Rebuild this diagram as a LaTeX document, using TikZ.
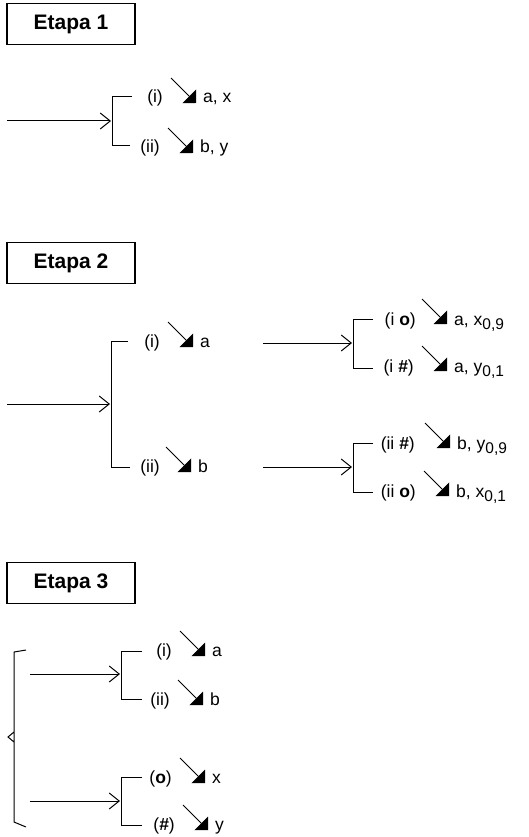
\documentclass[tikz,border=0pt]{standalone}
\usepackage{fontspec}
\setmainfont{Liberation Sans}
\usetikzlibrary{positioning,arrows.meta}

\newcommand{\lowsub}[1]{\raisebox{-4pt}{\fontsize{15.5}{15.5}\selectfont #1}}

\begin{document}
\begin{tikzpicture}[x=1pt,y=-1pt]

\tikzset{
  stage/.style={draw, line width=1.4pt, minimum width=128pt, minimum height=41pt, inner sep=0pt, font=\fontsize{21}{25}\selectfont\bfseries},
  res/.style={inner sep=0pt, anchor=base west, font=\fontsize{17.5}{20}\selectfont},
  lab/.style={inner sep=0pt, font=\fontsize{17.5}{20}\selectfont},
  lead/.style={line width=1pt, -{Straight Barb[length=10pt,width=16pt]}},
  brk/.style={line width=1pt},
  dn/.style={line width=1pt, -{Triangle[length=9.5pt,width=19pt]}}
}

\useasboundingbox (0,0) rectangle (528,837);

% Etapa 1

\node[stage] (e1) at (71,24) {Etapa 1};

\coordinate (in1) at (7,121);
\coordinate (br1) at (111,121);
\coordinate (br1t) at (112,97);
\coordinate (br1b) at (112,146);
\draw[lead] (in1) -- (br1);
\draw[brk] ([xshift=20]br1t) -- (br1t) -- (br1b) -- ([xshift=18]br1b);

\node[res] (r1a) at (203,103) {a, x};
\node[res] (r1b) at (200,153) {b, y};
\node[lab, base left=40pt of r1a] (l1a) {(i)};
\node[lab, base left=40pt of r1b] (l1b) {(ii)};
\draw[dn] ([shift={(-32,-25)}]r1a.base west) -- ([shift={(-7,0)}]r1a.base west);
\draw[dn] ([shift={(-32,-25)}]r1b.base west) -- ([shift={(-7,0)}]r1b.base west);

% Etapa 2

\node[stage] (e2) at (71,263) {Etapa 2};

\coordinate (in2) at (7,404);
\coordinate (br2) at (110,404);
\coordinate (br2t) at (111,341);
\coordinate (br2b) at (111,467);
\draw[lead] (in2) -- (br2);
\draw[brk] ([xshift=17]br2t) -- (br2t) -- (br2b) -- ([xshift=19]br2b);

\node[res] (r2a) at (200,347) {a};
\node[res] (r2b) at (198,472) {b};
\node[lab, base left=40pt of r2a] (l2a) {(i)};
\node[lab, base left=38pt of r2b] (l2b) {(ii)};
\draw[dn] ([shift={(-32,-25)}]r2a.base west) -- ([shift={(-7,0)}]r2a.base west);
\draw[dn] ([shift={(-32,-25)}]r2b.base west) -- ([shift={(-7,0)}]r2b.base west);

\coordinate (in2a) at (263,343);
\coordinate (br2a) at (352,343);
\coordinate (br2at) at (353,319);
\coordinate (br2ab) at (353,368);
\draw[lead] (in2a) -- (br2a);
\draw[brk] ([xshift=20]br2at) -- (br2at) -- (br2ab) -- ([xshift=20]br2ab);

\node[res] (r2c) at (454,325) {a, x\lowsub{0,9}};
\node[res] (r2d) at (454,372) {a, y\lowsub{0,1}};
\node[lab, base left=38pt of r2c] (l2c) {(i \textbf{o})};
\node[lab, base left=40pt of r2d] (l2d) {(i \textbf{\textit{\#}})};
\draw[dn] ([shift={(-32,-26)}]r2c.base west) -- ([shift={(-7,-1)}]r2c.base west);
\draw[dn] ([shift={(-32,-26)}]r2d.base west) -- ([shift={(-7,-1)}]r2d.base west);

\coordinate (in2b) at (263,467);
\coordinate (br2b') at (352,467);
\coordinate (br2bt) at (353,443);
\coordinate (br2bb) at (353,492);
\draw[lead] (in2b) -- (br2b');
\draw[brk] ([xshift=20]br2bt) -- (br2bt) -- (br2bb) -- ([xshift=20]br2bb);

\node[res] (r2e) at (457,449) {b, y\lowsub{0,9}};
\node[res] (r2f) at (456,497) {b, x\lowsub{0,1}};
\node[lab, base left=42pt of r2e] (l2e) {(ii \textbf{\textit{\#}})};
\node[lab, base left=40pt of r2f] (l2f) {(ii \textbf{o})};
\draw[dn] ([shift={(-32,-26)}]r2e.base west) -- ([shift={(-7,-1)}]r2e.base west);
\draw[dn] ([shift={(-32,-26)}]r2f.base west) -- ([shift={(-7,-1)}]r2f.base west);

% Etapa 3

\node[stage] (e3) at (71,583) {Etapa 3};

\coordinate (bt) at (14,652);
\coordinate (bm) at (8,737);
\coordinate (bb) at (14,822);
\draw[brk] ([shift={(12,-2)}]bt) -- (bt) -- ([yshift=-5]bm -| bt) -- (bm) -- ([yshift=5]bm -| bt) -- (bb) -- ([shift={(12,5)}]bb);

\coordinate (in3a) at (30,674);
\coordinate (br3a) at (120,674);
\coordinate (br3at) at (121,651);
\coordinate (br3ab) at (121,699);
\draw[lead] (in3a) -- (br3a);
\draw[brk] ([xshift=21]br3at) -- (br3at) -- (br3ab) -- ([xshift=21]br3ab);

\node[res] (r3a) at (212,656) {a};
\node[res] (r3b) at (210,705) {b};
\node[lab, base left=40pt of r3a] (l3a) {(i)};
\node[lab, base left=40pt of r3b] (l3b) {(ii)};
\draw[dn] ([shift={(-32,-25)}]r3a.base west) -- ([shift={(-7,0)}]r3a.base west);
\draw[dn] ([shift={(-32,-25)}]r3b.base west) -- ([shift={(-7,0)}]r3b.base west);

\coordinate (in3b) at (30,801);
\coordinate (br3b) at (120,801);
\coordinate (br3bt) at (121,777);
\coordinate (br3bb) at (121,825);
\draw[lead] (in3b) -- (br3b);
\draw[brk] ([xshift=21]br3bt) -- (br3bt) -- (br3bb) -- ([xshift=21]br3bb);

\node[res] (r3c) at (212,783) {x};
\node[res] (r3d) at (215,830) {y};
\node[lab, base left=40pt of r3c] (l3c) {(\textbf{o})};
\node[lab, base left=40pt of r3d] (l3d) {(\textbf{\textit{\#}})};
\draw[dn] ([shift={(-32,-25)}]r3c.base west) -- ([shift={(-7,0)}]r3c.base west);
\draw[dn] ([shift={(-32,-25)}]r3d.base west) -- ([shift={(-7,0)}]r3d.base west);

\end{tikzpicture}
\end{document}
